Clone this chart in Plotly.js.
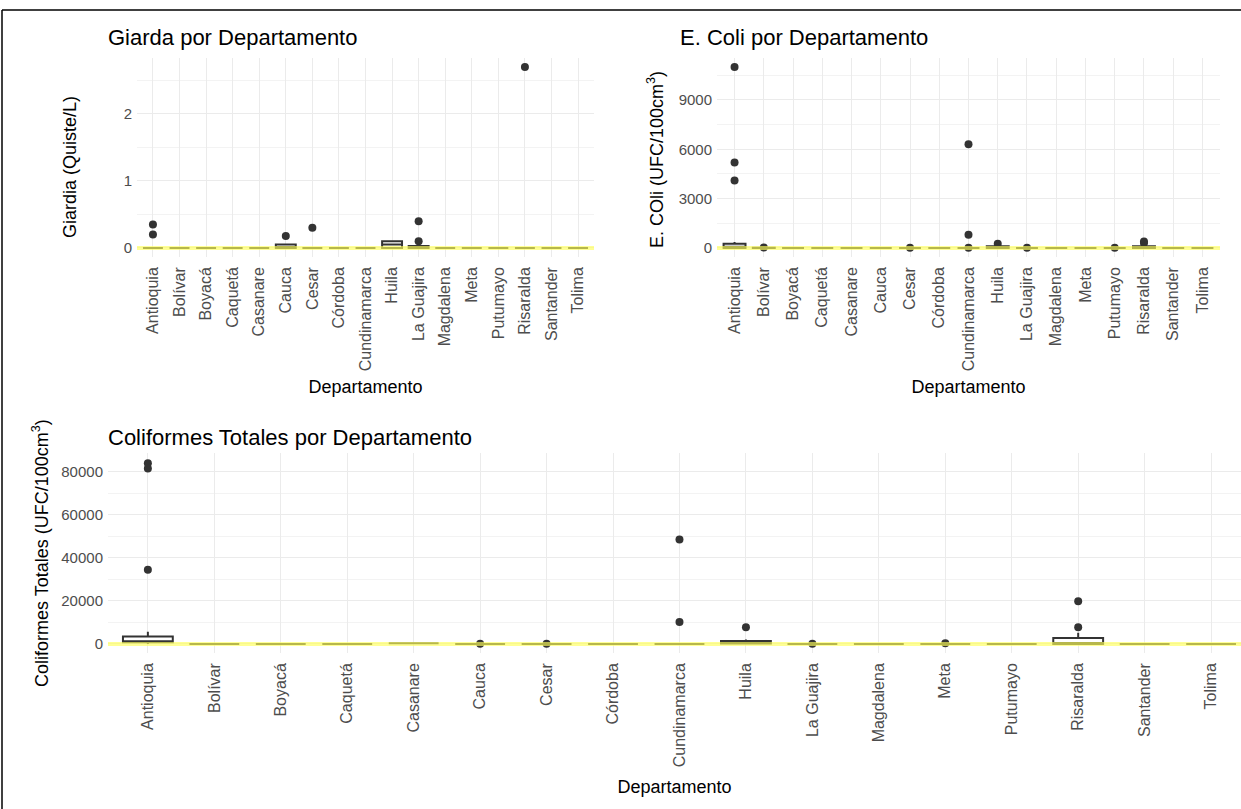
<!DOCTYPE html>
<html>
<head>
<meta charset="utf-8">
<script src="https://cdn.plot.ly/plotly-3.0.1.min.js"></script>
<style>html,body{margin:0;padding:0;background:#fff;}#chart{width:1241px;height:809px;}</style>
</head>
<body>
<div id="chart"></div>
<script>
const departamentos = ["Antioquia","Bolívar","Boyacá","Caquetá","Casanare","Cauca","Cesar","Córdoba","Cundinamarca","Huila","La Guajira","Magdalena","Meta","Putumayo","Risaralda","Santander","Tolima"];

// Giardia (Quiste/L)
const giaQ1  = [0,0,0,0,0,0,0,0,0,0,0,0,0,0,0,0,0];
const giaMed = [0,0,0,0,0,0,0,0,0,0.05,0.02,0,0,0,0,0,0];
const giaQ3  = [0,0,0,0,0,0.05,0,0,0,0.1,0.03,0,0,0,0,0,0];
const giaLo  = [0,0,0,0,0,0,0,0,0,0,0,0,0,0,0,0,0];
const giaHi  = [0,0,0,0,0,0.05,0,0,0,0.1,0.03,0,0,0,0,0,0];
const giaOutX = ["Antioquia","Antioquia","Cauca","Cesar","La Guajira","La Guajira","Risaralda"];
const giaOutY = [0.35,0.2,0.18,0.3,0.4,0.1,2.7];

// E. coli (UFC/100cm3)
const ecoQ1  = [0,0,0,0,0,0,0,0,0,0,0,0,0,0,0,0,0];
const ecoMed = [80,0,0,0,0,0,0,0,0,40,0,0,0,0,50,0,0];
const ecoQ3  = [250,20,0,0,0,0,0,0,0,100,0,0,0,0,110,0,0];
const ecoLo  = [0,0,0,0,0,0,0,0,0,0,0,0,0,0,0,0,0];
const ecoHi  = [360,40,0,0,0,0,0,0,0,100,0,0,0,0,110,0,0];
const ecoOutX = ["Antioquia","Antioquia","Antioquia","Bolívar","Cesar","Cundinamarca","Cundinamarca","Cundinamarca","Huila","La Guajira","Putumayo","Risaralda","Risaralda"];
const ecoOutY = [11000,5200,4100,30,10,6300,800,20,250,15,10,400,300];

// Coliformes totales (UFC/100cm3)
const colQ1  = [800,0,0,0,300,0,0,0,0,200,0,0,0,0,0,0,0];
const colMed = [1100,0,0,0,300,0,0,0,0,800,0,0,0,0,300,0,0];
const colQ3  = [3400,0,0,0,300,0,0,0,0,1400,0,0,0,0,2800,0,0];
const colLo  = [0,0,0,0,300,0,0,0,0,0,0,0,0,0,0,0,0];
const colHi  = [5700,0,0,0,300,0,0,0,0,2000,0,0,0,0,5200,0,0];
const colOutX = ["Antioquia","Antioquia","Antioquia","Cauca","Cesar","Cundinamarca","Cundinamarca","Huila","La Guajira","Meta","Risaralda","Risaralda"];
const colOutY = [84000,81500,34500,100,100,48500,10200,7800,100,300,19800,7800];

const W = 1241, H = 809;
const px = v => v / W;
const py = v => 1 - v / H;
const FONT = 'Liberation Sans, Arial, sans-serif';

const boxStyle = {type:'box', fillcolor:'#ffffff', line:{color:'#333333', width:2}, whiskerwidth:0, width:0.75, boxpoints:false, showlegend:false, hoverinfo:'skip'};
const ptStyle = {type:'scatter', mode:'markers', marker:{color:'#333333', size:8}, showlegend:false};

const traces = [
  Object.assign({}, boxStyle, {x:departamentos, q1:giaQ1, median:giaMed, q3:giaQ3, lowerfence:giaLo, upperfence:giaHi, xaxis:'x', yaxis:'y'}),
  Object.assign({}, ptStyle, {x:giaOutX, y:giaOutY, xaxis:'x', yaxis:'y'}),
  Object.assign({}, boxStyle, {x:departamentos, q1:ecoQ1, median:ecoMed, q3:ecoQ3, lowerfence:ecoLo, upperfence:ecoHi, xaxis:'x2', yaxis:'y2'}),
  Object.assign({}, ptStyle, {x:ecoOutX, y:ecoOutY, xaxis:'x2', yaxis:'y2'}),
  Object.assign({}, boxStyle, {x:departamentos, q1:colQ1, median:colMed, q3:colQ3, lowerfence:colLo, upperfence:colHi, xaxis:'x3', yaxis:'y3'}),
  Object.assign({}, ptStyle, {x:colOutX, y:colOutY, xaxis:'x3', yaxis:'y3'})
];

const xTickFont = {family:FONT, size:16, color:'#4d4d4d'};
const yTickFont = {family:FONT, size:15, color:'#4d4d4d'};
const titleFont = {family:FONT, size:18, color:'#000000'};
const gridC = '#ebebeb';

function xax(domain, right, standoff) {
  return {domain:domain, type:'category', categoryorder:'array', categoryarray:departamentos,
    range:[-0.6, right], tickangle:-90, tickfont:xTickFont, showgrid:true, gridcolor:gridC, gridwidth:1,
    zeroline:false, showline:false, ticks:'', fixedrange:true, ticklabelstandoff:6,
    title:{text:'Departamento', font:titleFont, standoff:standoff}};
}
function yax(domain, range, dtick, mdtick, anchor) {
  return {domain:domain, range:range, dtick:dtick, tick0:0, tickformat:'d', tickfont:yTickFont, showgrid:true, gridcolor:gridC, gridwidth:1,
    minor:{dtick:mdtick, tick0:0, showgrid:true, gridcolor:'#f3f3f3', gridwidth:1},
    zeroline:false, showline:false, ticks:'', anchor:anchor, fixedrange:true, ticklabelstandoff:4};
}

const layout = {
  width:W, height:H, paper_bgcolor:'#ffffff', plot_bgcolor:'#ffffff',
  margin:{l:0,r:0,t:0,b:0}, showlegend:false,
  font:{family:FONT},
  xaxis: Object.assign(xax([px(137), px(594)], 16.6, 10), {anchor:'y'}),
  yaxis: yax([py(257), py(58)], [-0.135, 2.835], 1, 0.5, 'x'),
  xaxis2: Object.assign(xax([px(717), px(1220)], 16.6, 10), {anchor:'y2'}),
  yaxis2: yax([py(257), py(58)], [-550, 11550], 3000, 1500, 'x2'),
  xaxis3: Object.assign(xax([px(108), 1], 16.45, 14), {anchor:'y3'}),
  yaxis3: yax([py(653), py(453)], [-4225, 88725], 20000, 10000, 'x3'),
  shapes: [
    {type:'line', xref:'x domain', yref:'y', x0:0, x1:1, y0:0, y1:0, line:{color:'rgba(255,255,90,0.65)', width:4}, layer:'above'},
    {type:'line', xref:'x2 domain', yref:'y2', x0:0, x1:1, y0:0, y1:0, line:{color:'rgba(255,255,90,0.65)', width:4}, layer:'above'},
    {type:'line', xref:'x3 domain', yref:'y3', x0:0, x1:1, y0:0, y1:0, line:{color:'rgba(255,255,90,0.65)', width:4}, layer:'above'},
    {type:'line', xref:'paper', yref:'paper', x0:px(2), x1:px(2), y0:0, y1:py(10), line:{color:'#000000', width:1.5}},
    {type:'line', xref:'paper', yref:'paper', x0:px(2), x1:1, y0:py(10), y1:py(10), line:{color:'#000000', width:1.5}}
  ],
  annotations: [
    {text:'Giarda por Departamento', xref:'paper', yref:'paper', x:px(106), y:py(37), xanchor:'left', yanchor:'middle', showarrow:false, font:{family:FONT, size:22, color:'#000'}},
    {text:'E. Coli por Departamento', xref:'paper', yref:'paper', x:px(678), y:py(37), xanchor:'left', yanchor:'middle', showarrow:false, font:{family:FONT, size:22, color:'#000'}},
    {text:'Coliformes Totales por Departamento', xref:'paper', yref:'paper', x:px(106), y:py(437), xanchor:'left', yanchor:'middle', showarrow:false, font:{family:FONT, size:22, color:'#000'}},
    {text:'Giardia (Quiste/L)', xref:'paper', yref:'paper', x:px(70), y:py(167), textangle:-90, xanchor:'center', yanchor:'middle', showarrow:false, font:titleFont},
    {text:'E. COli (UFC/100cm<sup>3</sup>)', xref:'paper', yref:'paper', x:px(655), y:py(160), textangle:-90, xanchor:'center', yanchor:'middle', showarrow:false, font:titleFont},
    {text:'Coliformes Totales (UFC/100cm<sup>3</sup>)', xref:'paper', yref:'paper', x:px(40), y:py(553), textangle:-90, xanchor:'center', yanchor:'middle', showarrow:false, font:titleFont}
  ]
};

Plotly.newPlot('chart', traces, layout, {displayModeBar:false, staticPlot:true});
</script>
</body>
</html>
